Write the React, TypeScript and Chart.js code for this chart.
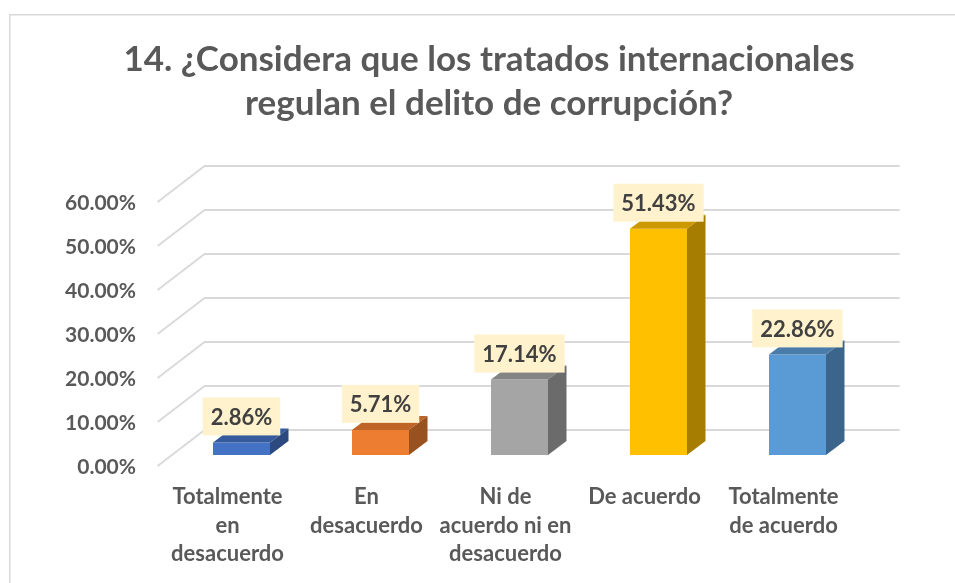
import React, { useEffect, useRef } from "react";
import { Chart, registerables } from "chart.js";

Chart.register(...registerables);

const titleLines = [
  "14. ¿Considera que los tratados internacionales",
  "regulan el delito de corrupción?",
];
const categories: string[][] = [
  ["Totalmente", "en", "desacuerdo"],
  ["En", "desacuerdo"],
  ["Ni de", "acuerdo ni en", "desacuerdo"],
  ["De acuerdo"],
  ["Totalmente", "de acuerdo"],
];
const values = [2.86, 5.71, 17.14, 51.43, 22.86];
const barColors = ["#4472C4", "#ED7D31", "#A5A5A5", "#FFC000", "#5B9BD5"];
const yMin = 0;
const yMax = 60;
const yStep = 10;

const FONT = "Lato, 'Open Sans', sans-serif";
const TEXT = "#595959";

function shade(hex: string, f: number) {
  const n = parseInt(hex.slice(1), 16);
  const r = Math.round(((n >> 16) & 255) * f);
  const g = Math.round(((n >> 8) & 255) * f);
  const b = Math.round((n & 255) * f);
  return `rgb(${r},${g},${b})`;
}

// 3D geometry (pixels)
const BACK = { x: 32.6, y: -25 };
const FRONT = { x: -14.4, y: 11 };
const DEPTH = { x: 18.5, y: -14 };

const threeD = {
  id: "threeD",
  beforeDraw(chart: any) {
    const ctx = chart.ctx;
    ctx.save();
    ctx.fillStyle = "#ffffff";
    ctx.fillRect(0, 0, chart.width, chart.height);
    ctx.strokeStyle = "#d9d9d9";
    ctx.lineWidth = 1.5;
    ctx.strokeRect(9.75, 14.75, 1000, 700);
    ctx.restore();
  },
  beforeDatasetsDraw(chart: any) {
    const ctx = chart.ctx;
    const ys = chart.scales.y;
    const { left, right } = chart.chartArea;
    ctx.save();
    ctx.strokeStyle = "#d9d9d9";
    ctx.lineWidth = 1.8;
    for (let v = yMin; v <= yMax; v += yStep) {
      const y = ys.getPixelForValue(v);
      ctx.beginPath();
      ctx.moveTo(left + FRONT.x, y + FRONT.y);
      ctx.lineTo(left + BACK.x, y + BACK.y);
      ctx.lineTo(right + BACK.x, y + BACK.y);
      ctx.stroke();
    }
    ctx.restore();
  },
  afterDatasetsDraw(chart: any) {
    const ctx = chart.ctx;
    const meta = chart.getDatasetMeta(0);
    ctx.save();
    meta.data.forEach((bar: any, i: number) => {
      const { x, y, base, width } = bar.getProps(["x", "y", "base", "width"], true);
      const x0 = x - width / 2;
      const x1 = x + width / 2;
      const c = barColors[i];
      ctx.fillStyle = shade(c, 0.8);
      ctx.beginPath();
      ctx.moveTo(x0, y);
      ctx.lineTo(x1, y);
      ctx.lineTo(x1 + DEPTH.x, y + DEPTH.y);
      ctx.lineTo(x0 + DEPTH.x, y + DEPTH.y);
      ctx.closePath();
      ctx.fill();
      ctx.fillStyle = shade(c, 0.65);
      ctx.beginPath();
      ctx.moveTo(x1, y);
      ctx.lineTo(x1 + DEPTH.x, y + DEPTH.y);
      ctx.lineTo(x1 + DEPTH.x, base + DEPTH.y);
      ctx.lineTo(x1, base);
      ctx.closePath();
      ctx.fill();
    });
    ctx.font = `bold 22px ${FONT}`;
    ctx.textAlign = "center";
    ctx.textBaseline = "middle";
    meta.data.forEach((bar: any, i: number) => {
      const { x, y } = bar.getProps(["x", "y"], true);
      const txt = values[i].toFixed(2) + "%";
      const w = ctx.measureText(txt).width + 16;
      const h = 38;
      const bottom = y - 7;
      ctx.fillStyle = "#FFF2CC";
      ctx.fillRect(x - w / 2, bottom - h, w, h);
      ctx.fillStyle = "#404040";
      ctx.fillText(txt, x, bottom - h / 2 + 1);
    });
    ctx.restore();
  },
};

export default function App() {
  const ref = useRef<HTMLCanvasElement | null>(null);
  useEffect(() => {
    if (!ref.current) return;
    const chart = new Chart(ref.current, {
      type: "bar",
      data: {
        labels: categories,
        datasets: [
          {
            data: values,
            backgroundColor: barColors,
            borderWidth: 0,
            categoryPercentage: 1,
            barPercentage: 0.41,
            yAxisID: "y",
          },
        ],
      },
      options: {
        animation: false,
        responsive: false,
        devicePixelRatio: 1,
        layout: { padding: { left: 64, right: 41, top: 0, bottom: 0 } },
        plugins: {
          legend: { display: false },
          tooltip: { enabled: false },
          title: {
            display: true,
            text: titleLines,
            color: TEXT,
            font: { family: FONT, size: 35, weight: "bold", lineHeight: 44 / 35 },
            padding: { top: 38, bottom: 65 },
          },
        },
        scales: {
          x: {
            grid: { display: false, drawTicks: false },
            border: { display: false },
            ticks: {
              color: TEXT,
              font: { family: FONT, size: 22, weight: "bold", lineHeight: 28.5 / 22 },
              padding: 28,
              labelOffset: -14,
              maxRotation: 0,
              autoSkip: false,
            },
            afterFit: (s: any) => {
              s.height = 128;
            },
          },
          y: {
            min: yMin,
            max: yMax,
            grid: { display: false, drawTicks: false },
            border: { display: false },
            ticks: {
              stepSize: yStep,
              color: TEXT,
              font: { family: FONT, size: 21, weight: "bold" },
              padding: 36,
              labelOffset: 12,
              callback: (v: any) => Number(v).toFixed(2) + "%",
            },
            afterFit: (s: any) => {
              s.width = 108;
            },
          },
          y2: {
            type: "linear",
            axis: "y",
            position: "right",
            grid: { display: false, drawTicks: false },
            border: { display: false },
            ticks: { display: false },
            afterFit: (s: any) => {
              s.width = 47;
            },
          },
        },
      },
      plugins: [threeD],
    });
    return () => chart.destroy();
  }, []);
  return (
    <div style={{ position: "fixed", left: 0, top: 0, width: 955, height: 583, overflow: "hidden", background: "#fff" }}>
      <canvas ref={ref} width={955} height={583} style={{ display: "block", width: 955, height: 583 }} />
    </div>
  );
}
